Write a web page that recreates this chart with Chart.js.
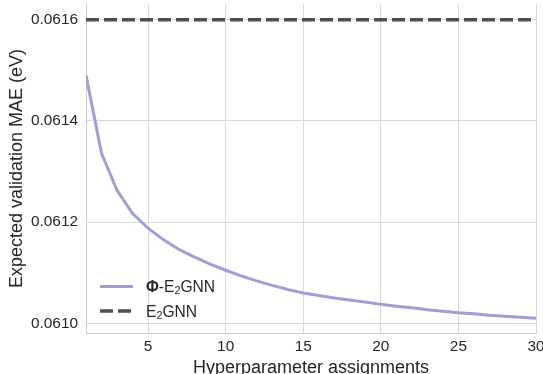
<!DOCTYPE html>
<html><head><meta charset="utf-8">
<script src="https://cdn.jsdelivr.net/npm/chart.js@4.4.0/dist/chart.umd.min.js"></script>
<style>html,body{margin:0;padding:0;background:#fff;overflow:hidden}</style>
</head><body>
<canvas id="c" width="543" height="374"></canvas>
<script>
// ---- data ----
const assignments = [1,2,3,4,5,6,7,8,9,10,11,12,13,14,15,16,17,18,19,20,21,22,23,24,25,26,27,28,29,30];
const phiE2gnnMAE = [0.061490,0.061336,0.061263,0.061217,0.061188,0.061165,0.061146,0.061131,0.061117,0.061105,
                     0.061094,0.061084,0.061075,0.061067,0.061060,0.061055,0.061050,0.061046,0.061042,0.061038,
                     0.061034,0.061031,0.061027,0.061024,0.061021,0.061019,0.061016,0.061014,0.061012,0.061010];
const baselineX = [1, 30];
const e2gnnMAE = [0.0616, 0.0616];
const xTicks = [5,10,15,20,25,30];
const yTicks = [0.0610,0.0612,0.0614,0.0616];
const seriesLabels = ['Φ-E₂GNN', 'E₂GNN'];
// legend label pieces (bold Φ, subscript 2)
const legendParts = [
  [{t:'Φ', bold:true}, {t:'-E'}, {t:'2', sub:true}, {t:'GNN'}],
  [{t:'E'}, {t:'2', sub:true}, {t:'GNN'}]
];

const FONT = "'Liberation Sans', Arial, Helvetica, sans-serif";
const TEXT = '#262626';
const PURPLE = '#9d9fd6';
const DARK = '#4f4f4f';

const legendPlugin = {
  id: 'inlineLegend',
  afterDatasetsDraw(chart) {
    const ctx = chart.ctx;
    const ca = chart.chartArea;
    const x0 = ca.left + 14, x1 = ca.left + 47, tx = ca.left + 60;
    const rowsY = [ca.bottom - 46.5, ca.bottom - 22];
    const size = 15.6;
    chart.data.datasets.forEach((ds, i) => {
      const y = rowsY[i];
      ctx.save();
      ctx.strokeStyle = ds.borderColor;
      ctx.lineWidth = ds.borderWidth;
      ctx.setLineDash(ds.borderDash || []);
      ctx.lineCap = 'butt';
      ctx.beginPath(); ctx.moveTo(x0, y); ctx.lineTo(x1, y); ctx.stroke();
      ctx.restore();
      ctx.save();
      ctx.fillStyle = TEXT;
      ctx.textBaseline = 'alphabetic';
      let x = tx;
      const base = y + size * 0.36;
      legendParts[i].forEach(p => {
        const s = p.sub ? size * 0.7 : size;
        ctx.font = (p.bold ? 'bold ' : '') + s + 'px ' + FONT;
        ctx.fillText(p.t, x, p.sub ? base + size * 0.15 : base);
        x += ctx.measureText(p.t).width;
      });
      ctx.restore();
    });
  }
};

new Chart(document.getElementById('c'), {
  type: 'line',
  data: {
    datasets: [
      { label: seriesLabels[0],
        data: assignments.map((x, i) => ({x, y: phiE2gnnMAE[i]})),
        borderColor: PURPLE, borderWidth: 3, pointRadius: 0, tension: 0, fill: false },
      { label: seriesLabels[1],
        data: baselineX.map((x, i) => ({x, y: e2gnnMAE[i]})),
        borderColor: DARK, borderWidth: 3.5, borderDash: [13, 5], pointRadius: 0, fill: false }
    ]
  },
  options: {
    responsive: false,
    animation: false,
    devicePixelRatio: 1,
    layout: { padding: { top: 4, right: 7, left: 0, bottom: 0 } },
    plugins: { legend: { display: false }, tooltip: { enabled: false } },
    scales: {
      x: {
        type: 'linear', min: 1, max: 30,
        afterBuildTicks: s => { s.ticks = xTicks.map(v => ({value: v})); },
        afterFit: s => { s.height = 41; s.paddingLeft = 0; s.paddingRight = 0; },
        ticks: { color: TEXT, font: { family: FONT, size: 15.4 }, padding: 5, maxRotation: 0, autoSkip: false },
        grid: { color: '#d9d9d9', lineWidth: 1, drawTicks: false },
        border: { display: true, color: '#cccccc', width: 1 },
        title: { display: true, text: 'Hyperparameter assignments', color: TEXT,
                 font: { family: FONT, size: 18, lineHeight: 0.67 }, padding: { top: 0, bottom: 0 } }
      },
      y: {
        type: 'linear', min: 0.060981, max: 0.061631,
        afterBuildTicks: s => { s.ticks = yTicks.map(v => ({value: v})); },
        afterFit: s => { s.width = 86; s.paddingTop = 0; s.paddingBottom = 0; },
        ticks: { color: TEXT, font: { family: FONT, size: 15.4 }, padding: 8,
                 callback: v => Number(v).toFixed(4) },
        grid: { color: '#d9d9d9', lineWidth: 1, drawTicks: false },
        border: { display: true, color: '#cccccc', width: 1 },
        title: { display: true, text: 'Expected validation MAE (eV)', color: TEXT,
                 font: { family: FONT, size: 18, lineHeight: 1 }, padding: { top: 8, bottom: 0 } }
      }
    }
  },
  plugins: [legendPlugin]
});
</script>
</body></html>
